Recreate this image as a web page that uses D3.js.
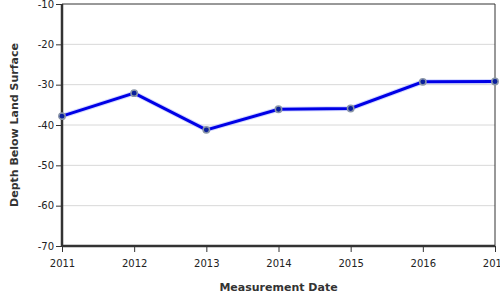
<!DOCTYPE html>
<html>

<head>
  <title>Depth Below Land Surface</title>
  <style>
    body { margin: 0; }
    text { font-family: "DejaVu Sans", sans-serif; }
  </style>
</head>

<body>
  <svg id="svg"></svg>

  <script src="https://d3js.org/d3.v7.min.js"></script>
  <script>
    let years = [2011, 2012, 2013, 2014, 2015, 2016, 2017];
    let depths = [-37.8, -32.1, -41.2, -36.1, -35.9, -29.3, -29.2];
    let yTicks = [-10, -20, -30, -40, -50, -60, -70];

    let margin = { top: 4, right: 5, bottom: 54, left: 62 };
    let width = 500 - margin.left - margin.right, height = 300 - margin.top - margin.bottom;

    let data = years.map((yr, i) => ({ year: yr, depth: depths[i] }));

    let svg = d3.select("#svg").attr("width", 500).attr("height", 300);
    let g = svg.append("g").attr("transform", `translate(${margin.left}, ${margin.top})`);

    let x = d3.scaleLinear().domain([2011, 2017]).range([0, width]);
    let y = d3.scaleLinear().domain([-70, -10]).range([height, 0]);

    // grid
    g.selectAll("line.grid")
      .data(yTicks.slice(1, -1))
      .join("line")
      .attr("class", "grid")
      .attr("x1", 0).attr("x2", width)
      .attr("y1", d => y(d)).attr("y2", d => y(d))
      .attr("stroke", "#d8d8d8").attr("stroke-width", 1);

    // top and right border
    g.append("path")
      .attr("d", `M0,${y(-10)}H${width}V${height}`)
      .attr("fill", "none").attr("stroke", "#333").attr("stroke-width", 1);

    let xAxis = g.append("g")
      .attr("transform", `translate(0, ${height})`)
      .call(d3.axisBottom(x).tickValues(years).tickFormat(d3.format("d")).tickSize(6).tickPadding(8));

    let yAxis = g.append("g")
      .call(d3.axisLeft(y).tickValues(yTicks).tickSize(6).tickPadding(2).tickFormat(d => d));

    [xAxis, yAxis].forEach(a => {
      a.select(".domain").attr("stroke", "#333").attr("stroke-width", 2.5);
      a.selectAll(".tick line").attr("stroke", "#333");
      a.selectAll("text").attr("fill", "#222").style("font-size", "10px");
    });
    xAxis.select(".domain").attr("d", `M0,0H${width}`);
    yAxis.select(".domain").attr("d", `M0,0V${height}`);

    let line = d3.line().x(d => x(d.year)).y(d => y(d.depth));

    g.append("path")
      .datum(data)
      .attr("d", line)
      .attr("fill", "none")
      .attr("stroke", "#aab4ff")
      .attr("stroke-width", 5)
      .attr("opacity", 0.5);

    g.append("path")
      .datum(data)
      .attr("d", line)
      .attr("fill", "none")
      .attr("stroke", "#0000e6")
      .attr("stroke-width", 3);

    g.selectAll("circle")
      .data(data)
      .join("circle")
      .attr("cx", d => x(d.year))
      .attr("cy", d => y(d.depth))
      .attr("r", 3.2)
      .attr("fill", "#0a1f9a")
      .attr("stroke", "#8a96a8")
      .attr("stroke-width", 1.5);

    svg.append("text")
      .attr("x", margin.left + width / 2)
      .attr("y", 291)
      .attr("text-anchor", "middle")
      .style("font-size", "11px")
      .style("font-weight", "bold")
      .attr("fill", "#333")
      .text("Measurement Date");

    svg.append("text")
      .attr("transform", `translate(18, ${margin.top + height / 2}) rotate(-90)`)
      .attr("text-anchor", "middle")
      .style("font-size", "11px")
      .style("font-weight", "bold")
      .attr("fill", "#333")
      .text("Depth Below Land Surface");
  </script>
</body>

</html>
